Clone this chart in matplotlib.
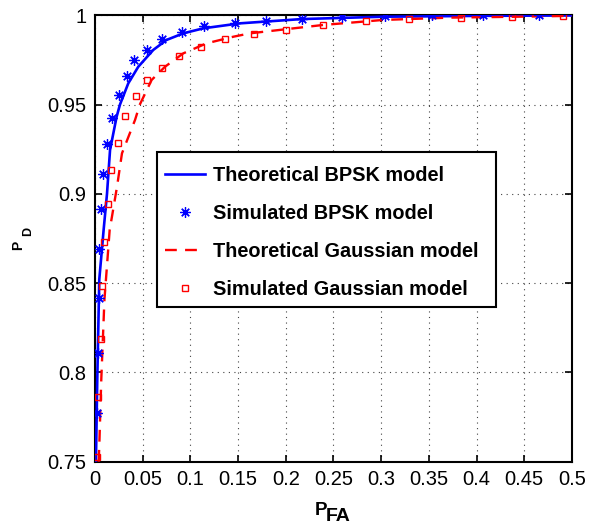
import matplotlib
matplotlib.use("Agg")
import matplotlib.pyplot as plt
from matplotlib.patches import Rectangle
import numpy as np

plt.rcParams['font.family'] = ['Liberation Sans', 'DejaVu Sans']

# Theoretical BPSK curve
bpsk_th_x = [0.001, 0.0024, 0.0045, 0.0091, 0.0126, 0.0158, 0.0227, 0.0262, 0.0349,
             0.0454, 0.0611, 0.075, 0.0926, 0.1135, 0.152, 0.217, 0.302, 0.4064, 0.5]
bpsk_th_y = [0.75, 0.796, 0.852, 0.880, 0.900, 0.9246, 0.9432, 0.95, 0.9619,
             0.9712, 0.9806, 0.9862, 0.9899, 0.9927, 0.9955, 0.9979, 0.9992, 0.9997, 0.9999]

# Simulated BPSK points
bpsk_sim_x = [0.0017, 0.0028, 0.0039, 0.0045, 0.0063, 0.0087, 0.0122, 0.0182, 0.0255,
              0.0332, 0.0412, 0.0549, 0.0706, 0.0916, 0.1143, 0.1468, 0.1792, 0.2170,
              0.2589, 0.3043, 0.353, 0.4064, 0.4657]
bpsk_sim_y = [0.7772, 0.8107, 0.8419, 0.869, 0.8914, 0.9111, 0.9279, 0.9427, 0.9554,
              0.966, 0.975, 0.9806, 0.9866, 0.9905, 0.994, 0.9955, 0.9968, 0.9979,
              0.9992, 0.9997, 0.9999, 1.0, 1.0]

# Theoretical Gaussian curve
gauss_th_x = [0.0039, 0.0045, 0.0066, 0.0099, 0.0154, 0.0178, 0.0231, 0.0283, 0.042,
              0.047, 0.0594, 0.0734, 0.0926, 0.117, 0.145, 0.1625, 0.2, 0.2393, 0.302,
              0.372, 0.442, 0.5]
gauss_th_y = [0.75, 0.7585, 0.7958, 0.8406, 0.8798, 0.8872, 0.904, 0.9227, 0.9414,
              0.95, 0.9638, 0.9712, 0.9787, 0.9843, 0.988, 0.9899, 0.9922, 0.9946, 0.9974,
              0.9987, 0.9992, 0.9997]

# Simulated Gaussian points
gauss_sim_x = [0.0021, 0.0028, 0.0059, 0.0070, 0.0098, 0.0140, 0.0168, 0.0237, 0.0314,
               0.0427, 0.0549, 0.0702, 0.0884, 0.1108, 0.1363, 0.1667, 0.2002, 0.2393,
               0.2837, 0.3295, 0.3836, 0.4374, 0.4909]
gauss_sim_y = [0.7525, 0.7865, 0.8186, 0.8484, 0.8729, 0.8943, 0.9134, 0.9283, 0.9436,
               0.9548, 0.9638, 0.9703, 0.9772, 0.9824, 0.9867, 0.9894, 0.9918, 0.9944,
               0.997, 0.9979, 0.9987, 0.9992, 0.9996]

labels = ['Theoretical BPSK model', 'Simulated BPSK model',
          'Theoretical Gaussian model', 'Simulated Gaussian model']

xticks = [0, 0.05, 0.1, 0.15, 0.2, 0.25, 0.3, 0.35, 0.4, 0.45, 0.5]
xticklabels = ['0', '0.05', '0.1', '0.15', '0.2', '0.25', '0.3', '0.35', '0.4', '0.45', '0.5']
yticks = [0.75, 0.8, 0.85, 0.9, 0.95, 1.0]
yticklabels = ['0.75', '0.8', '0.85', '0.9', '0.95', '1']

W, H = 603, 524
fig = plt.figure(figsize=(W / 100, H / 100), dpi=100)
ax = fig.add_axes([0.1575, 0.1189, 0.9486 - 0.1575, 0.9708 - 0.1189])

ax.plot(bpsk_th_x, bpsk_th_y, '-', color='#0000ff', lw=1.9, label=labels[0], zorder=3)
ax.plot(bpsk_sim_x, bpsk_sim_y, linestyle='none', marker=(8, 2, 0), markersize=7.5,
        markeredgewidth=0.9, color='#0000ff', label=labels[1], zorder=4)
ax.plot(gauss_th_x, gauss_th_y, '--', color='#ff0000', lw=1.7, dashes=(5, 3.5),
        label=labels[2], zorder=3)
ax.plot(gauss_sim_x, gauss_sim_y, linestyle='none', marker='s', markersize=5,
        markerfacecolor='none', markeredgecolor='#ff0000', markeredgewidth=1.0,
        label=labels[3], zorder=4)

ax.set_xlim(0, 0.5)
ax.set_ylim(0.75, 1.0)
ax.set_xticks(xticks)
ax.set_xticklabels(xticklabels)
ax.set_yticks(yticks)
ax.set_yticklabels(yticklabels)
ax.tick_params(direction='in', length=5, width=1.2, top=True, right=True,
               labelsize=14.5, pad=6)
for s in ax.spines.values():
    s.set_linewidth(1.5)
ax.grid(True, linestyle=(0, (1, 4)), color='#444444', linewidth=0.8)

# axis labels: P with subscript, drawn as separate texts (pixel anchors from top-left)
def ftext(px, py, s, size, rot=0):
    fig.text(px / W, 1 - py / H, s, fontsize=size, fontweight='bold',
             rotation=rot, rotation_mode='anchor', ha='left', va='baseline')

ftext(315, 515, 'P', 13.5)
ftext(326, 521, 'FA', 14)
ftext(22, 250, 'P', 10, rot=90)
ftext(31.5, 236.5, 'D', 9, rot=90)

# legend box drawn separately, legend entries without frame
ax.add_patch(Rectangle((0.13, 0.3466), 0.8407 - 0.13, 0.694 - 0.3466,
                       transform=ax.transAxes, facecolor='white', edgecolor='black',
                       linewidth=1.5, zorder=4.5))
leg = ax.legend(loc='upper left', bbox_to_anchor=(0.13, 0.680), frameon=False,
                prop={'weight': 'bold', 'size': 14.3}, handlelength=2.0,
                handletextpad=0.4, labelspacing=0.95, borderpad=0.4,
                borderaxespad=0)
leg.set_zorder(6)

fig.savefig('out.png', dpi=100)
